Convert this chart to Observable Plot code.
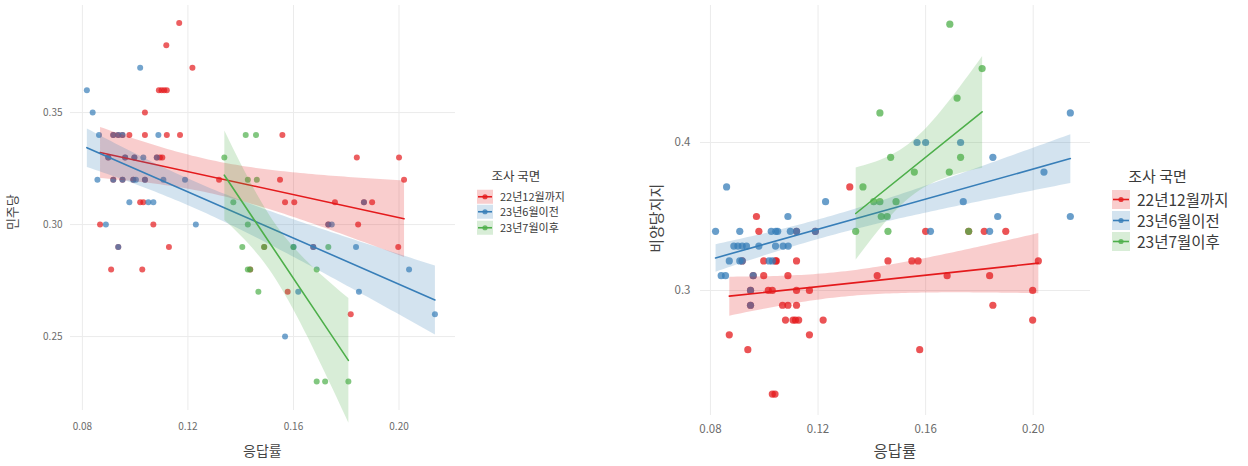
<!DOCTYPE html>
<html>
<head>
<meta charset="utf-8">
<script src="https://cdn.jsdelivr.net/npm/d3@7"></script>
<script src="https://cdn.jsdelivr.net/npm/@observablehq/plot@0.6"></script>
<style>
  html, body { margin: 0; padding: 0; background: #fff; }
  body { font-family: "Noto Sans CJK KR", "Noto Sans", sans-serif; }
  #wrap { position: relative; width: 1248px; height: 466px; overflow: hidden; }
  .abs { position: absolute; }
  .ytitle { transform: rotate(-90deg); transform-origin: center center; white-space: nowrap; color: #444; line-height: 1.1; }
  .xtitle { color: #444; white-space: nowrap; line-height: 1.1; }
  .legend { color: #3a3a3a; }
  .legend .row { display: flex; align-items: center; white-space: nowrap; overflow: visible; }
  .legend .row span { display: block; }
  .legend svg { display: block; flex: none; }
</style>
</head>
<body>
<div id="wrap"></div>
<script>
// ---------- categories ----------
const groups = ["22년12월까지", "23년6월이전", "23년7월이후"];
const colors = ["#E41A1C", "#377EB8", "#4DAF4A"];
const legendTitle = "조사 국면";
const xTitle = "응답률";
const leftYTitle = "민주당";
const rightYTitle = "비양당지지";
const xTicks = [0.08, 0.12, 0.16, 0.20];
const leftYTicks = [0.25, 0.30, 0.35];
const rightYTicks = [0.3, 0.4];

// ---------- left panel (민주당) ----------
const leftRedX = [0.1167,0.1118,0.1217,0.109,0.110,0.111,0.112,0.1037,0.0917,0.0936,0.0952,0.0978,0.1037,0.112,0.117,0.1558,
  0.0898,0.0962,0.0997,0.1082,0.1094,0.1103,0.184,0.200,0.0917,0.0952,0.0993,0.1037,0.1318,0.1549,0.2019,
  0.1019,0.1031,0.1568,0.1603,0.1757,0.1867,0.1898,0.0867,0.1069,0.1732,0.1845,0.0936,0.1128,0.1675,0.1997,0.1489,
  0.0909,0.1027,0.1436,0.1578,0.1817];
const leftRedY = [0.39,0.38,0.37,0.36,0.36,0.36,0.36,0.35,0.34,0.34,0.34,0.34,0.34,0.34,0.34,0.34,
  0.33,0.33,0.33,0.33,0.33,0.33,0.33,0.33,0.32,0.32,0.32,0.32,0.32,0.32,0.32,
  0.31,0.31,0.31,0.31,0.31,0.31,0.31,0.30,0.30,0.30,0.30,0.29,0.29,0.29,0.29,0.29,
  0.28,0.28,0.28,0.27,0.26];
const leftBlueX = [0.1019,0.0817,0.0839,0.0863,0.0917,0.0936,0.0952,0.1088,0.0898,0.0962,0.0997,0.1031,0.1082,
  0.0857,0.0917,0.0952,0.0993,0.1003,0.1037,0.1107,0.1189,0.0978,0.105,0.1069,0.1867,0.0889,0.123,0.1732,0.1745,
  0.0936,0.160,0.1675,0.1837,0.2038,0.1618,0.1848,0.2136,0.1568];
const leftBlueY = [0.37,0.36,0.35,0.34,0.34,0.34,0.34,0.34,0.33,0.33,0.33,0.33,0.33,
  0.32,0.32,0.32,0.32,0.32,0.32,0.32,0.32,0.31,0.31,0.31,0.31,0.30,0.30,0.30,0.30,
  0.29,0.29,0.29,0.29,0.28,0.27,0.27,0.26,0.25];
const leftGreenX = [0.1419,0.1458,0.1338,0.1427,0.1461,0.1372,0.1427,0.1406,0.1489,0.160,0.1732,0.1427,0.1436,0.1688,0.1467,0.1688,0.172,0.1808];
const leftGreenY = [0.34,0.34,0.33,0.32,0.32,0.31,0.30,0.29,0.29,0.29,0.29,0.28,0.28,0.28,0.27,0.23,0.23,0.23];

// ---------- right panel (비양당지지) ----------
const rightRedX = [0.1318,0.0971,0.098,0.112,0.119,0.160,0.1818,0.1898,0.176,
  0.0998,0.1042,0.1045,0.112,0.1549,0.1572,0.2019,0.146,0.0918,
  0.0998,0.1088,0.168,0.1838,0.0959,0.142,
  0.0949,0.1015,0.103,0.112,0.1168,0.1998,
  0.0949,0.1068,0.1088,0.112,0.185,
  0.1079,0.1107,0.1116,0.1128,0.1219,0.1998,
  0.087,0.1168,0.0939,0.1578,0.103,0.104];
const rightRedY = [0.37,0.35,0.34,0.34,0.34,0.34,0.34,0.34,0.34,
  0.32,0.32,0.32,0.32,0.32,0.32,0.32,0.32,0.32,
  0.31,0.31,0.31,0.31,0.31,0.31,
  0.30,0.30,0.30,0.30,0.30,0.30,
  0.29,0.29,0.29,0.29,0.29,
  0.28,0.28,0.28,0.28,0.28,0.28,
  0.27,0.27,0.26,0.26,0.23,0.23];
const rightBlueX = [0.2138,0.1568,0.160,0.173,0.185,0.204,0.086,0.1228,0.174,0.1088,0.1868,0.2138,
  0.0819,0.0909,0.1026,0.1043,0.105,0.1097,0.112,0.119,0.1618,0.1838,
  0.0887,0.0902,0.0918,0.0934,0.098,0.1042,0.107,0.1089,
  0.087,0.0909,0.0918,0.1018,0.103,0.084,0.0856,0.0959,0.0949,0.0949];
const rightBlueY = [0.42,0.40,0.40,0.40,0.39,0.38,0.37,0.36,0.36,0.35,0.35,0.35,
  0.34,0.34,0.34,0.34,0.34,0.34,0.34,0.34,0.34,0.34,
  0.33,0.33,0.33,0.33,0.33,0.33,0.33,0.33,
  0.32,0.32,0.32,0.32,0.32,0.31,0.31,0.31,0.30,0.29];
const rightGreenX = [0.169,0.181,0.1717,0.143,0.147,0.173,0.1688,0.1558,0.1367,0.1407,0.143,0.149,0.1435,0.1457,0.134,0.146,0.176];
const rightGreenY = [0.48,0.45,0.43,0.42,0.39,0.39,0.38,0.38,0.37,0.36,0.36,0.36,0.35,0.35,0.34,0.34,0.34];

function rows(xs, ys, g) { return xs.map((x, i) => ({x, y: ys[i], g})); }
const leftData = [
  ...rows(leftRedX, leftRedY, groups[0]),
  ...rows(leftBlueX, leftBlueY, groups[1]),
  ...rows(leftGreenX, leftGreenY, groups[2])
];
const rightData = [
  ...rows(rightRedX, rightRedY, groups[0]),
  ...rows(rightBlueX, rightBlueY, groups[1]),
  ...rows(rightGreenX, rightGreenY, groups[2])
];

const FONT = '"Noto Sans CJK KR", "Noto Sans", sans-serif';

function panel(o) {
  return Plot.plot({
    width: o.width, height: 466,
    marginLeft: o.ml, marginRight: o.mr, marginTop: o.mt, marginBottom: o.mb,
    style: {fontFamily: FONT, fontSize: o.fs + "px", color: "#6b6b6b", background: "transparent", overflow: "visible"},
    x: {domain: o.xDomain},
    y: {domain: o.yDomain},
    color: {domain: groups, range: colors},
    marks: [
      Plot.gridX(xTicks, {stroke: "#ebebeb", strokeOpacity: 1, strokeWidth: 1}),
      Plot.gridY(o.yTicks, {stroke: "#ebebeb", strokeOpacity: 1, strokeWidth: 1}),
      Plot.axisX({ticks: xTicks, tickSize: 0, tickPadding: o.xPad, tickFormat: d3.format(".2f"), label: null, fontSize: o.fs}),
      Plot.axisY({ticks: o.yTicks, tickSize: 0, tickPadding: o.yPad, tickFormat: d3.format(o.yFmt), label: null, fontSize: o.fs}),
      Plot.dot(o.data, {x: "x", y: "y", fill: "g", r: o.r, fillOpacity: o.op, stroke: "none"}),
      Plot.linearRegressionY(o.data, {x: "x", y: "y", stroke: "g", fill: "g", fillOpacity: 0.22, strokeWidth: 1.6, ci: 0.95})
    ]
  });
}

const wrap = document.getElementById("wrap");

function place(el, left, top) {
  el.classList.add("abs");
  el.style.left = left + "px";
  el.style.top = top + "px";
  wrap.appendChild(el);
  return el;
}

const left = panel({
  data: leftData, width: 460, ml: 70, mr: 5, mt: 5, mb: 56,
  xDomain: [0.0755, 0.2214], yDomain: [0.217, 0.3978], yTicks: leftYTicks, yFmt: ".2f",
  fs: 10, xPad: 12, yPad: 8, r: 3, op: 0.7
});
place(left, 0, 0);

const right = panel({
  data: rightData, width: 475, ml: 80, mr: 5, mt: 5, mb: 51,
  xDomain: [0.0763, 0.2213], yDomain: [0.2155, 0.4926], yTicks: rightYTicks, yFmt: ".1f",
  fs: 11.5, xPad: 9, yPad: 10, r: 3.6, op: 0.75
});
place(right, 620, 0);

function textDiv(cls, txt, size) {
  const d = document.createElement("div");
  d.className = cls;
  d.textContent = txt;
  d.style.fontSize = size + "px";
  return d;
}

// axis titles
const lx = place(textDiv("xtitle", xTitle, 14), 0, 443);
lx.style.left = (70 + 385 / 2 - lx.offsetWidth / 2) + "px";
const rx = place(textDiv("xtitle", xTitle, 15.5), 0, 442);
rx.style.left = (700 + 390 / 2 - rx.offsetWidth / 2) + "px";

const ly = place(textDiv("ytitle", leftYTitle, 13), 0, 0);
ly.style.left = (12 - ly.offsetWidth / 2) + "px";
ly.style.top = (212 - ly.offsetHeight / 2) + "px";
const ry = place(textDiv("ytitle", rightYTitle, 15), 0, 0);
ry.style.left = (656 - ry.offsetWidth / 2) + "px";
ry.style.top = (218 - ry.offsetHeight / 2) + "px";

// legends
function legend(leftPx, topPx, titleSize, itemSize, rowH, sw, swH) {
  const box = document.createElement("div");
  box.className = "legend";
  const t = document.createElement("div");
  t.textContent = legendTitle;
  t.style.fontSize = titleSize + "px";
  t.style.lineHeight = (titleSize + 4) + "px";
  t.style.marginLeft = (sw * 0.9) + "px";
  t.style.marginBottom = "4px";
  box.appendChild(t);
  groups.forEach((g, i) => {
    const row = document.createElement("div");
    row.className = "row";
    row.style.height = rowH + "px";
    row.style.lineHeight = rowH + "px";
    const ns = "http://www.w3.org/2000/svg";
    const s = document.createElementNS(ns, "svg");
    s.setAttribute("width", sw); s.setAttribute("height", rowH);
    const rect = document.createElementNS(ns, "rect");
    rect.setAttribute("x", 0); rect.setAttribute("y", (rowH - swH) / 2);
    rect.setAttribute("width", sw); rect.setAttribute("height", swH);
    rect.setAttribute("fill", colors[i]); rect.setAttribute("fill-opacity", 0.22);
    const line = document.createElementNS(ns, "line");
    line.setAttribute("x1", 1); line.setAttribute("x2", sw - 1);
    line.setAttribute("y1", rowH / 2); line.setAttribute("y2", rowH / 2);
    line.setAttribute("stroke", colors[i]); line.setAttribute("stroke-width", 1.6);
    const c = document.createElementNS(ns, "circle");
    c.setAttribute("cx", sw / 2); c.setAttribute("cy", rowH / 2); c.setAttribute("r", 2.6);
    c.setAttribute("fill", colors[i]); c.setAttribute("fill-opacity", 0.8);
    s.appendChild(rect); s.appendChild(line); s.appendChild(c);
    row.appendChild(s);
    const tx = document.createElement("span");
    tx.textContent = g;
    tx.style.fontSize = itemSize + "px";
    tx.style.lineHeight = rowH + "px";
    tx.style.height = rowH + "px";
    tx.style.marginLeft = "7px";
    row.appendChild(tx);
    box.appendChild(row);
  });
  place(box, leftPx, topPx);
}
legend(477, 168, 12.5, 11, 15.5, 16, 14);
legend(1112, 166, 15, 15.5, 21, 18, 19);
</script>
</body>
</html>
